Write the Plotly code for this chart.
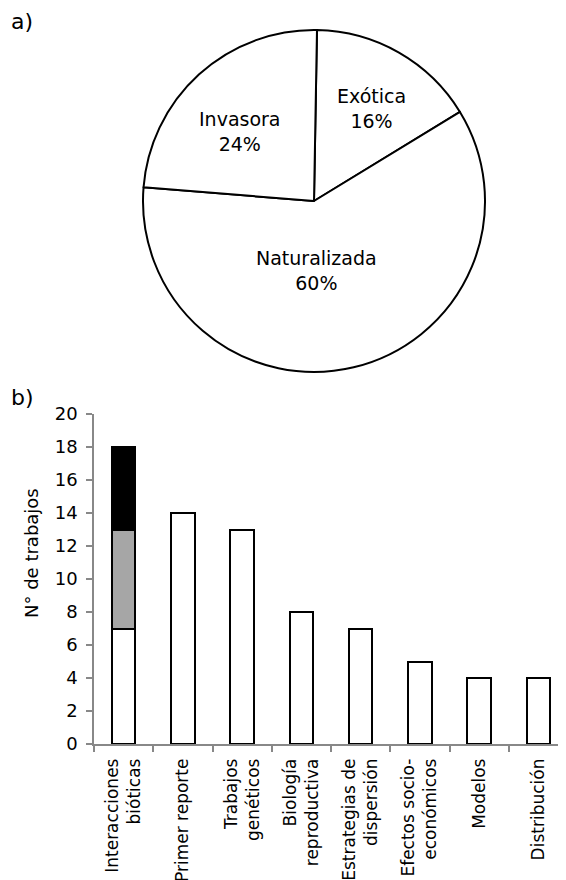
import plotly.graph_objects as go

# ---- data ----
pie_labels = ["Exótica", "Naturalizada", "Invasora"]
pie_values = [16, 60, 24]

categories = ["Interacciones bióticas", "Primer reporte", "Trabajos genéticos",
              "Biología reproductiva", "Estrategias de dispersión",
              "Efectos socio-económicos", "Modelos", "Distribución"]
tick_labels = ["Interacciones<br>bióticas", "Primer reporte", "Trabajos<br>genéticos",
               "Biología<br>reproductiva", "Estrategias de<br>dispersión",
               "Efectos socio-<br>económicos", "Modelos", "Distribución"]
base_values = [7, 14, 13, 8, 7, 5, 4, 4]
gray_values = [6, None, None, None, None, None, None, None]
black_values = [5, None, None, None, None, None, None, None]

y_ticks = list(range(0, 21, 2))
y_title = "N° de trabajos"

W, H = 566, 880
OFF = 8  # page body margin
FONT = "DejaVu Sans"


def px_x(x):
    return (x - OFF) / W


def px_y(y):
    return 1 - (y - OFF) / H


fig = go.Figure()

fig.add_trace(go.Pie(
    labels=pie_labels, values=pie_values, sort=False, direction="clockwise",
    rotation=1,
    marker=dict(colors=["white"] * 3, line=dict(color="black", width=2)),
    textinfo="none",
    domain=dict(x=[px_x(143), px_x(485)], y=[px_y(372), px_y(30)]),
    showlegend=False, hoverinfo="skip",
))

bar_line = dict(color="black", width=2)
fig.add_trace(go.Bar(x=categories, y=base_values, width=0.4,
                     marker=dict(color="white", line=bar_line),
                     showlegend=False, hoverinfo="skip"))
fig.add_trace(go.Bar(x=categories, y=gray_values, width=0.4,
                     marker=dict(color="#a6a6a6", line=bar_line),
                     showlegend=False, hoverinfo="skip"))
fig.add_trace(go.Bar(x=categories, y=black_values, width=0.4,
                     marker=dict(color="black", line=bar_line),
                     showlegend=False, hoverinfo="skip"))

# pie slice labels (text only)
total = sum(pie_values)
label_pos = {"Exótica": (371, 109), "Naturalizada": (316, 270), "Invasora": (240, 131)}
annotations = []
for lab, val in zip(pie_labels, pie_values):
    x, y = label_pos[lab]
    annotations.append(dict(
        text=f"{lab}<br>{round(val / total * 100)}%", x=px_x(x), y=px_y(y),
        xref="paper", yref="paper", xanchor="center", yanchor="middle",
        showarrow=False, align="center",
        font=dict(size=19, family=FONT, color="black")))

annotations += [
    dict(text="a)", x=px_x(9), y=px_y(22), xref="paper", yref="paper",
         xanchor="left", yanchor="middle", showarrow=False,
         font=dict(size=22, family=FONT, color="black")),
    dict(text="b)", x=px_x(9), y=px_y(397), xref="paper", yref="paper",
         xanchor="left", yanchor="middle", showarrow=False,
         font=dict(size=22, family=FONT, color="black")),
    dict(text=y_title, x=px_x(31), y=px_y(553), xref="paper", yref="paper",
         xanchor="center", yanchor="middle", textangle=-90, showarrow=False,
         font=dict(size=18, family=FONT, color="black")),
]

fig.update_layout(
    width=W, height=H,
    margin=dict(l=0, r=0, t=0, b=0),
    paper_bgcolor="white", plot_bgcolor="white",
    barmode="stack",
    font=dict(family=FONT, color="black"),
    xaxis=dict(
        domain=[px_x(94), px_x(568)], range=[-0.5, 7.5],
        tickmode="array", tickvals=categories, ticktext=tick_labels,
        tickangle=-90, tickson="boundaries",
        ticks="outside", ticklen=6, tickcolor="#888888", tickwidth=1.5,
        showline=True, linecolor="#888888", linewidth=1.5,
        showgrid=False, zeroline=False,
        tickfont=dict(size=17, family=FONT, color="black"),
        ticklabelstandoff=6,
        automargin=False, fixedrange=True,
    ),
    yaxis=dict(
        domain=[px_y(744), px_y(414)], range=[0, 20],
        tickmode="array", tickvals=y_ticks,
        ticks="outside", ticklen=6, tickcolor="#888888", tickwidth=1.5,
        showline=True, linecolor="#888888", linewidth=1.5,
        showgrid=False, zeroline=False,
        tickfont=dict(size=18, family=FONT, color="black"),
        ticklabelstandoff=5,
        automargin=False, fixedrange=True,
    ),
    annotations=annotations,
)

fig.write_html("out.html")
